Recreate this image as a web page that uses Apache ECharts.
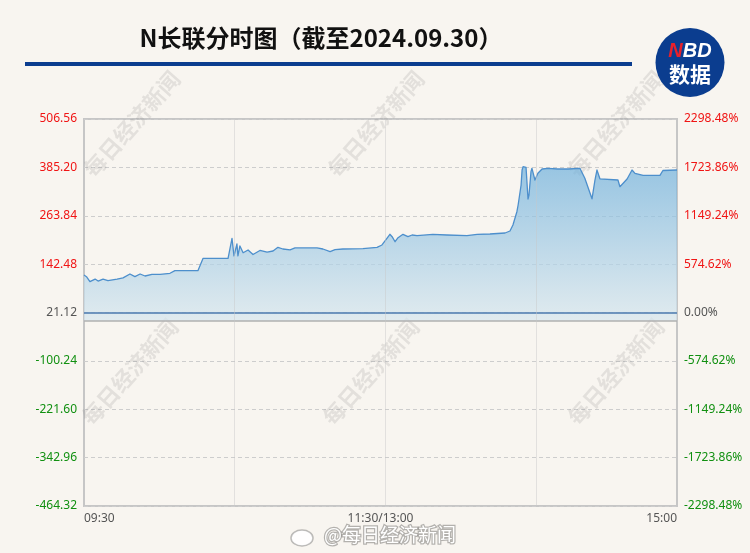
<!DOCTYPE html>
<html><head><meta charset="utf-8">
<script src="https://cdn.jsdelivr.net/npm/echarts@6/dist/echarts.min.js"></script>
<style>html,body{margin:0;padding:0;background:#f8f5f0}#c{width:750px;height:553px}</style>
</head><body><div id="c"></div>
<script>
const titleText = 'N长联分时图（截至2024.09.30）';
const basePrice = 21.12;
const timeLabels = ['09:30', '11:30/13:00', '15:00'];
const priceMin = -464.32, priceMax = 506.56, priceStep = 121.36;
const pctMin = -2298.48, pctMax = 2298.48, pctStep = 574.62;
// minute index from 09:30 (0 .. 240)
const minuteIdx = [
  0, 1, 2.4, 4.5, 5.7, 7.7, 9.7, 13.4, 15.8, 18.6,
  20.6, 22.7, 24.7, 27.5, 30.8, 34.8, 36.8, 46.1, 48.2, 58.3,
  59.9, 60.7, 61.9, 62.3, 63.1, 64.4, 66.4, 68.4, 71.2, 74.1,
  76.5, 78.5, 80.5, 83.4, 85.4, 94.3, 96.7, 99.6, 101.6, 104.8,
  112.9, 118.6, 120.6, 122.6, 123.8, 124.7, 125.9, 127.1, 129.1, 131.1,
  132.8, 134.8, 141.2, 146.9, 155, 159.1, 164.3, 170.4, 172.4, 173.6,
  175.2, 175.7, 176.9, 177.3, 177.7, 178.9, 179.7, 180.1, 180.9, 181.3,
  182.5, 183.7, 185.4, 187.8, 191.8, 195.9, 200.7, 201.5, 202.7, 205.6,
  206.8, 207.6, 208.8, 216.1, 216.9, 219.8, 221.8, 223, 226.3, 233.1,
  234.3, 240
];
const price = [
  115, 111, 98.4, 105, 100, 105, 101, 105, 108, 117.7,
  111, 117.7, 112.7, 117, 117, 119.5, 126, 126, 157, 157,
  207, 163, 193, 163, 188, 171, 178, 166.6, 176.7, 172.4,
  175.4, 184.7, 180.4, 178, 183, 183, 180.4, 173.6, 178.7, 180.4,
  181.2, 184.7, 190.5, 207.3, 217.3, 211.3, 198.7, 208.8, 217.3, 211.3,
  215.5, 213.8, 217.3, 215.5, 213.8, 217.3, 218, 220.6, 225.6, 240.6,
  274, 290.8, 341, 378.6, 387, 385.4, 305.9, 315.9, 374.4, 382.9,
  353.5, 370.3, 381.1, 382.9, 381.1, 381.1, 382.9, 382.9, 357.8, 306.4,
  353.5, 378.6, 356.6, 353.5, 336.7, 356, 378.6, 370, 365, 365,
  377.3, 378.6
];
const verticalGrid = [61, 122, 183];

const seriesData = minuteIdx.map((m, i) => [m, price[i]]);
const RED = '#f01414', GREEN = '#119011', GRAY = '#555555';

const chart = echarts.init(document.getElementById('c'), null, {renderer: 'canvas'});

const wmPos = [[132,124],[376,124],[616,124],[130,372],[371,372],[616,372]];
const graphics = wmPos.map(p => ({
  type: 'text', x: p[0], y: p[1], rotation: Math.PI * 0.27, silent: true, z: 1,
  style: {text: '每日经济新闻', font: 'bold 22px "Noto Sans CJK SC"', fill: 'rgba(120,120,120,0.16)',
    textAlign: 'center', textVerticalAlign: 'middle'}
}));
graphics.push(
  {type: 'text', x: 321, y: 38, z: 10, style: {text: titleText, font: 'bold 24px "Noto Sans CJK SC"', fill: '#111', textAlign: 'center', textVerticalAlign: 'middle'}},
  {type: 'rect', shape: {x: 25, y: 62, width: 607, height: 4}, style: {fill: '#0b3d8f'}, z: 10},
  {type: 'circle', shape: {cx: 690, cy: 62.5, r: 34.5}, style: {fill: '#0b3d8f'}, z: 10},
  {type: 'text', x: 690, y: 51, z: 11, style: {rich: {n: {fill: '#e8202a', font: 'bold italic 20px "Liberation Sans"'}, b: {fill: '#fff', font: 'bold italic 20px "Liberation Sans"'}}, text: '{n|N}{b|BD}', textAlign: 'center', textVerticalAlign: 'middle'}},
  {type: 'text', x: 690, y: 74, z: 11, style: {text: '数据', font: 'bold 21px "Noto Sans CJK SC"', fill: '#fff', textAlign: 'center', textVerticalAlign: 'middle'}},
  {type: 'ellipse', shape: {cx: 302, cy: 538, rx: 11, ry: 8}, style: {fill: 'rgba(255,255,255,0.9)', stroke: 'rgba(0,0,0,0.25)', lineWidth: 1.5}, z: 10},
  {type: 'text', x: 390, y: 535, z: 11, style: {text: '@每日经济新闻', font: '19px "Noto Sans CJK SC"', fill: '#ffffff', stroke: 'rgba(0,0,0,0.28)', lineWidth: 2.5, textAlign: 'center', textVerticalAlign: 'middle'}}
);

chart.setOption({
  backgroundColor: '#f8f5f0',
  animation: false,
  graphic: graphics,
  grid: {left: 84, right: 73, top: 119, bottom: 47, show: true, borderColor: '#c6c6c6', borderWidth: 2, backgroundColor: 'transparent'},
  xAxis: {
    type: 'value', min: 0, max: 240, interval: 120,
    axisLine: {show: false}, axisTick: {show: false}, splitLine: {show: false},
    axisLabel: {color: GRAY, fontSize: 12, fontFamily: 'Noto Sans', margin: 7,
      alignMinLabel: 'left', alignMaxLabel: 'right',
      formatter: v => timeLabels[Math.round(v / 120)] || ''}
  },
  yAxis: [{
    type: 'value', min: priceMin, max: priceMax, interval: priceStep,
    axisLine: {show: false}, axisTick: {show: false},
    splitLine: {show: true, lineStyle: {color: '#cdcdcd', type: [4, 3], width: 1}},
    axisLabel: {fontSize: 12, fontFamily: 'Noto Sans', margin: 7,
      formatter: v => v.toFixed(2),
      color: v => (v > basePrice + 0.01 ? RED : (v < basePrice - 0.01 ? GREEN : GRAY))}
  }, {
    type: 'value', min: pctMin, max: pctMax, interval: pctStep, position: 'right',
    axisLine: {show: false}, axisTick: {show: false}, splitLine: {show: false},
    axisLabel: {fontSize: 12, fontFamily: 'Noto Sans', margin: 7,
      formatter: v => v.toFixed(2) + '%',
      color: v => (v > 0.01 ? RED : (v < -0.01 ? GREEN : GRAY))}
  }],
  series: [{
    type: 'line', data: seriesData, showSymbol: false, symbol: 'none', z: 3,
    lineStyle: {color: '#4d8fcc', width: 1.3, join: 'round'},
    areaStyle: {origin: 0, color: {type: 'linear', x: 0, y: 166, x2: 0, y2: 320, global: true,
      colorStops: [{offset: 0, color: '#6eb0dc'}, {offset: 1, color: '#d6e6ee'}]}},
    markLine: {
      silent: true, symbol: 'none', label: {show: false}, animation: false,
      data: [
        {yAxis: 0, lineStyle: {color: '#b0b0b0', width: 1.5, type: 'solid'}},
        {yAxis: basePrice, lineStyle: {color: '#4a78ae', width: 1.5, type: 'solid'}}
      ].concat(verticalGrid.map(x => ({xAxis: x, lineStyle: {color: 'rgba(200,200,200,0.45)', width: 1, type: 'solid'}})))
    }
  }]
});
</script>
</body></html>
